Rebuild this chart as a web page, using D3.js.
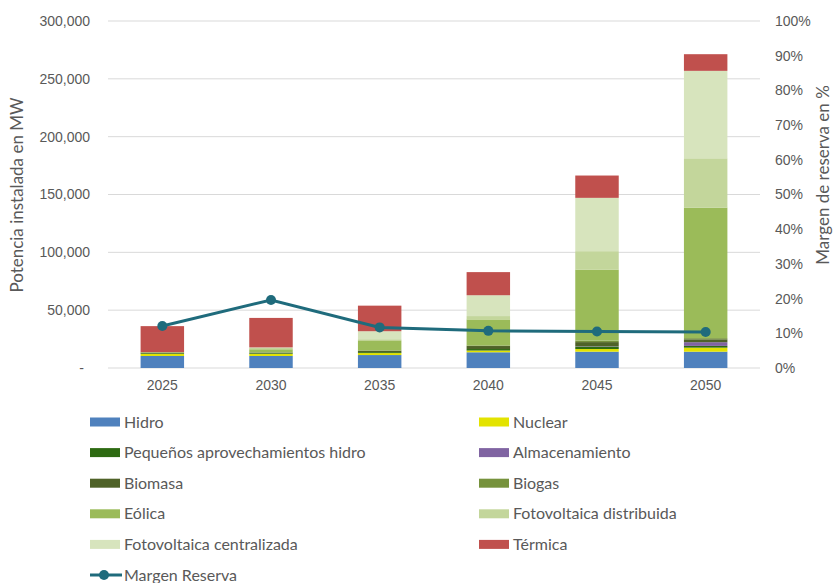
<!DOCTYPE html>
<html>
<head>
<meta charset="utf-8">
<script src="https://cdn.jsdelivr.net/npm/d3@7"></script>
<style>
  body { margin: 0; background: #fff; }
  svg { font-family: Lato, "Open Sans", sans-serif; }
</style>
</head>
<body>
<svg id="chart" width="837" height="583"></svg>
<script>
// data (MW)
const years = ["2025", "2030", "2035", "2040", "2045", "2050"]
const hidro = [10400, 10400, 11200, 13600, 14100, 14100]
const nuclear = [1800, 1800, 1700, 1500, 2300, 3500]
const pequenos = [600, 600, 800, 1300, 2200, 1500]
const almacenamiento = [0, 0, 0, 0, 300, 3200]
const biomasa = [400, 500, 1200, 2600, 3500, 2500]
const biogas = [200, 300, 400, 500, 1300, 1000]
const eolica = [300, 2600, 8600, 22500, 61400, 112900]
const fvDistribuida = [0, 1100, 1000, 2900, 15900, 42600]
const fvCentralizada = [0, 500, 6900, 18000, 46100, 75600]
const termica = [22500, 25500, 22100, 20000, 19300, 14400]
// margen de reserva (%)
const margen = [12.1, 19.6, 11.7, 10.7, 10.5, 10.4]

const leftTicks = [0, 50000, 100000, 150000, 200000, 250000, 300000]
const rightTicks = [0, 10, 20, 30, 40, 50, 60, 70, 80, 90, 100]

const series = [
  { key: "Hidro", values: hidro, color: "#4f81bd" },
  { key: "Nuclear", values: nuclear, color: "#e3e300" },
  { key: "Pequeños aprovechamientos hidro", values: pequenos, color: "#2d6a12" },
  { key: "Almacenamiento", values: almacenamiento, color: "#8064a2" },
  { key: "Biomasa", values: biomasa, color: "#4f6228" },
  { key: "Biogas", values: biogas, color: "#76923c" },
  { key: "Eólica", values: eolica, color: "#9bbb59" },
  { key: "Fotovoltaica distribuida", values: fvDistribuida, color: "#c3d69b" },
  { key: "Fotovoltaica centralizada", values: fvCentralizada, color: "#d7e4bd" },
  { key: "Térmica", values: termica, color: "#c0504d" }
]
const lineColor = "#1f6b7c"
const textColor = "#595959"

const svg = d3.select("#chart")
const plot = { left: 108, right: 760, top: 21, bottom: 368 }

const x = d3.scaleBand()
  .domain(years)
  .range([plot.left, plot.right])
  .paddingInner(0.6)
  .paddingOuter(0.3)

const y = d3.scaleLinear().domain([0, 300000]).range([plot.bottom, plot.top])
const y2 = d3.scaleLinear().domain([0, 100]).range([plot.bottom, plot.top])

// gridlines
svg.append("g")
  .selectAll("line")
  .data(leftTicks)
  .join("line")
  .attr("x1", plot.left)
  .attr("x2", plot.right)
  .attr("y1", d => y(d))
  .attr("y2", d => y(d))
  .attr("stroke", "#d9d9d9")
  .attr("stroke-width", 1)

// left axis
const fmt = d3.format(",")
const leftAxis = svg.append("g")
  .attr("transform", `translate(${plot.left - 18},0)`)
  .call(d3.axisLeft(y).tickValues(leftTicks).tickSize(0).tickPadding(0)
    .tickFormat(d => d === 0 ? "-" : fmt(d)))
leftAxis.select(".domain").remove()
leftAxis.selectAll("text").attr("fill", textColor).style("font-size", "14px")
leftAxis.selectAll(".tick").filter(d => d === 0).select("text").attr("dx", -6)

// right axis
const rightAxis = svg.append("g")
  .attr("transform", `translate(${plot.right + 15},0)`)
  .call(d3.axisRight(y2).tickValues(rightTicks).tickSize(0).tickPadding(0)
    .tickFormat(d => d + "%"))
rightAxis.select(".domain").remove()
rightAxis.selectAll("text").attr("fill", textColor).style("font-size", "14px")

// x axis labels
const xAxis = svg.append("g")
  .attr("transform", `translate(0,${plot.bottom + 12})`)
  .call(d3.axisBottom(x).tickSize(0).tickPadding(0))
xAxis.select(".domain").remove()
xAxis.selectAll("text").attr("fill", textColor).style("font-size", "14px")

// axis titles
svg.append("text")
  .attr("transform", "translate(23,195) rotate(-90)")
  .attr("text-anchor", "middle")
  .attr("fill", textColor)
  .style("font-size", "17px")
  .text("Potencia instalada en MW")

svg.append("text")
  .attr("transform", "translate(829,175) rotate(-90)")
  .attr("text-anchor", "middle")
  .attr("fill", textColor)
  .style("font-size", "17px")
  .text("Margen de reserva en %")

// stacked bars
const table = years.map((yr, i) => {
  const row = { year: yr }
  series.forEach(s => { row[s.key] = s.values[i] })
  return row
})
const stacked = d3.stack().keys(series.map(s => s.key))(table)
const colorOf = d3.scaleOrdinal().domain(series.map(s => s.key)).range(series.map(s => s.color))

svg.append("g")
  .selectAll("g")
  .data(stacked)
  .join("g")
  .attr("fill", d => colorOf(d.key))
  .selectAll("rect")
  .data(d => d)
  .join("rect")
  .attr("x", d => x(d.data.year))
  .attr("width", x.bandwidth())
  .attr("y", d => y(d[1]))
  .attr("height", d => y(d[0]) - y(d[1]))

// margen de reserva line
const cx = (d, i) => x(years[i]) + x.bandwidth() / 2
svg.append("path")
  .datum(margen)
  .attr("d", d3.line().x(cx).y(d => y2(d)))
  .attr("fill", "none")
  .attr("stroke", lineColor)
  .attr("stroke-width", 3)

svg.append("g")
  .selectAll("circle")
  .data(margen)
  .join("circle")
  .attr("cx", cx)
  .attr("cy", d => y2(d))
  .attr("r", 5)
  .attr("fill", lineColor)

// legend
const legendRows = 5
const legend = svg.append("g")
series.forEach((s, i) => {
  const col = i % 2
  const row = Math.floor(i / 2)
  const gx = col === 0 ? 90 : 479
  const gy = 422 + row * 30.6
  legend.append("rect")
    .attr("x", gx).attr("y", gy - 4.5)
    .attr("width", 30).attr("height", 9)
    .attr("fill", s.color)
  legend.append("text")
    .attr("x", gx + 34).attr("y", gy)
    .attr("dy", "0.35em")
    .attr("fill", textColor)
    .style("font-size", "16px")
    .text(s.key)
})
const ly = 422 + legendRows * 30.6
legend.append("line")
  .attr("x1", 90).attr("x2", 122).attr("y1", ly).attr("y2", ly)
  .attr("stroke", lineColor).attr("stroke-width", 3)
legend.append("circle")
  .attr("cx", 104).attr("cy", ly).attr("r", 5).attr("fill", lineColor)
legend.append("text")
  .attr("x", 124).attr("y", ly)
  .attr("dy", "0.35em")
  .attr("fill", textColor)
  .style("font-size", "16px")
  .text("Margen Reserva")
</script>
</body>
</html>
